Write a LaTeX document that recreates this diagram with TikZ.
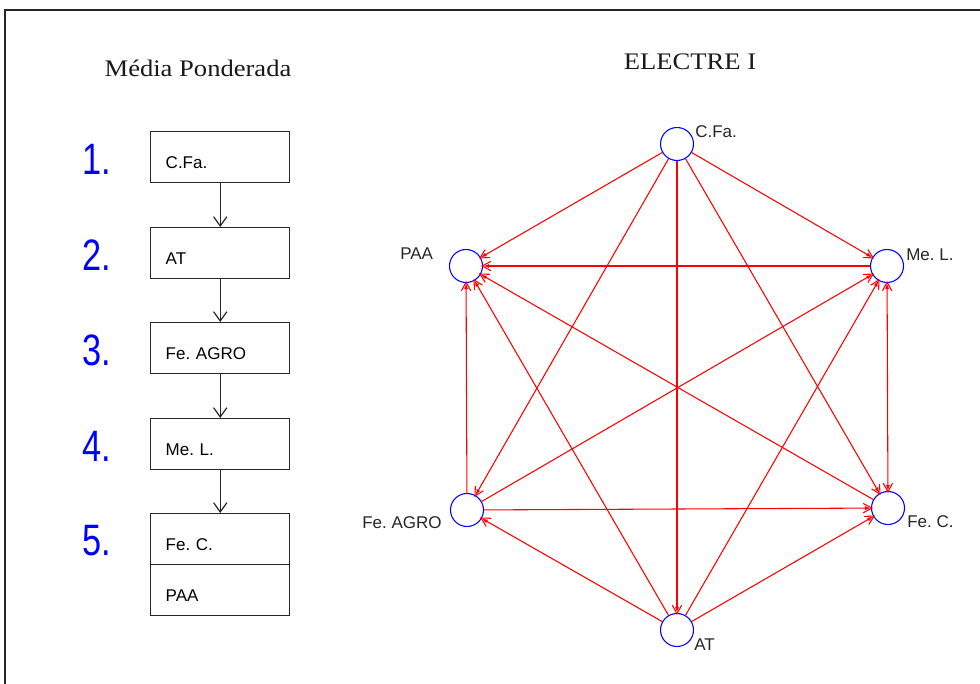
\documentclass[tikz,border=0pt]{standalone}
\usepackage{fontspec}
\setmainfont{Liberation Sans}
\newfontfamily\titlefont[FakeStretch=1.12]{Liberation Serif}
\newfontfamily\numfont[FakeStretch=0.78]{Liberation Sans}
\usetikzlibrary{arrows.meta}
\frenchspacing

\begin{document}
\begin{tikzpicture}[x=0.75pt,y=-0.75pt,
  lbl/.style={font=\fontsize{12.75}{15}\selectfont, inner sep=0pt, text=black!85},
  ttl/.style={font=\titlefont\fontsize{17.8}{20}\selectfont, inner sep=0pt, text=black!90},
  rank/.style={font=\numfont\fontsize{33}{33}\selectfont, inner sep=0pt, text=blue},
  rankbox/.style={draw=black!85, line width=1.1pt, rectangle, inner xsep=11.25pt, inner ysep=0pt,
    text width=81.75pt, align=left, text height=27.75pt, text depth=10.5pt,
    font=\fontsize{12.75}{15}\selectfont},
  flow/.style={draw=black!85, line width=0.9pt, -{Straight Barb[length=7pt,width=10pt]}},
  alt/.style={circle, draw=blue, line width=0.8pt, minimum size=24.75pt, inner sep=0pt},
  tipR/.tip={Straight Barb[length=6.5pt,width=7pt,sep=-6pt]Latex[length=4.5pt,width=3pt]},
  rel/.style={draw=red, line width=0.8pt, -{tipR}},
  both/.style={draw=red, line width=0.8pt, {tipR}-{tipR}}
]
\useasboundingbox (0,0) rectangle (980,684);
\fill[white] (0,0) rectangle (980,684);
% outer frame
\draw[line width=1.4pt, black!85] (5,684) -- (5,10) -- (980,10);

% titles
\node[ttl, anchor=base] (t1) at (198,77) {Média Ponderada};
\node[ttl, anchor=base] (t2) at (690,70) {ELECTRE I};

% ranking by weighted average
\node[rankbox, anchor=north west] (b1) at (150,131) {C.Fa.};
\node[rankbox, anchor=north west] (b2) at (150,227) {AT};
\node[rankbox, anchor=north west] (b3) at (150,322) {Fe. AGRO};
\node[rankbox, anchor=north west] (b4) at (150,418) {Me. L.};
\node[rankbox, anchor=north west] (b5) at (150,513) {Fe. C.};
\node[rankbox, anchor=north west] (b6) at (150,564) {PAA};

\node[rank] (r1) at (97,159) {1.};
\node[rank] (r2) at (97,255) {2.};
\node[rank] (r3) at (97,350) {3.};
\node[rank] (r4) at (97,446) {4.};
\node[rank] (r5) at (97,541) {5.};

\draw[flow] (b1.south) -- (b2.north);
\draw[flow] (b2.south) -- (b3.north);
\draw[flow] (b3.south) -- (b4.north);
\draw[flow] (b4.south) -- (b5.north);

% ELECTRE I outranking graph
\node[alt] (cfa) at (677,144) {};
\node[alt] (paa) at (466,266) {};
\node[alt] (mel) at (887,266) {};
\node[alt] (fag) at (467,510) {};
\node[alt] (fec) at (888,508) {};
\node[alt] (at)  at (677,630) {};

\node[lbl, anchor=base west] (lcfa) at (695,138) {C.Fa.};
\node[lbl, anchor=base west] (lpaa) at (400,259) {PAA};
\node[lbl, anchor=base west] (lmel) at (906,260) {Me. L.};
\node[lbl, anchor=base west] (lfag) at (362,528) {Fe. AGRO};
\node[lbl, anchor=base west] (lfec) at (907,527) {Fe. C.};
\node[lbl, anchor=base west] (lat)  at (694,650) {AT};

\draw[rel] (cfa) -- (paa);
\draw[rel] (cfa) -- (mel);
\draw[rel] (cfa) -- (at);
\draw[rel] (cfa) -- (fag);
\draw[rel] (cfa) -- (fec);
\draw[rel] (mel) -- (paa);
\draw[rel] (fag) -- (paa);
\draw[rel] (fec) -- (paa);
\draw[rel] (at) -- (paa);
\draw[rel] (fag) -- (mel);
\draw[rel] (at) -- (mel);
\draw[both] (mel) -- (fec);
\draw[rel] (fag) -- (fec);
\draw[rel] (at) -- (fec);
\draw[rel] (at) -- (fag);
\end{tikzpicture}
\end{document}
